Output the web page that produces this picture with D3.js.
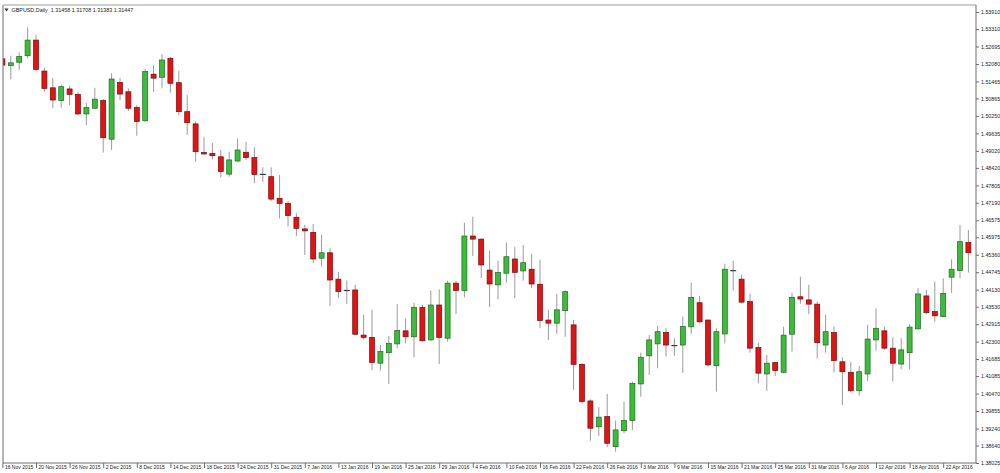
<!DOCTYPE html>
<html><head><meta charset="utf-8">
<script src="https://cdn.jsdelivr.net/npm/d3@7/dist/d3.min.js"></script>
<style>
html,body{margin:0;padding:0;background:#fff;}
svg{display:block;font-family:"Liberation Sans",Arial,sans-serif;}
</style></head>
<body>
<svg id="c" width="1000" height="473"></svg>
<script>
const symbolTitle = "GBPUSD,Daily";
const headerQuote = "1.31458 1.31708 1.31383 1.31447";
const startDate = "2015-11-16";
const holidays = ["2015-12-25", "2016-01-01"];

const open = [
1.5226,1.5202,1.5214,1.5237,1.5292,1.5183,1.5124,1.5079,1.5120,1.5101,
1.5032,1.5052,1.5079,1.4943,1.5143,1.5110,1.5055,1.5008,1.5172,1.5161,
1.5228,1.5142,1.5040,1.4997,1.4896,1.4893,1.4881,1.4820,1.4866,1.4897,
1.4878,1.4819,1.4811,1.4735,1.4717,1.4668,1.4627,1.4615,1.4524,1.4543,
1.4450,1.4410,1.4412,1.4253,1.4245,1.4154,1.4191,1.4222,1.4268,1.4247,
1.4351,1.4236,1.4359,1.4242,1.4436,1.4410,1.4602,1.4591,1.4482,1.4430,
1.4471,1.4521,1.4479,1.4485,1.4432,1.4306,1.4295,1.4339,1.4289,1.4150,
1.4021,1.3930,1.3966,1.3860,1.3916,1.3952,1.4081,1.4180,1.4222,1.4262,
1.4216,1.4218,1.4282,1.4367,1.4306,1.4145,1.4257,1.4480,1.4450,1.4371,
1.4209,1.4116,1.4156,1.4122,1.4256,1.4388,1.4377,1.4362,1.4218,1.4262,
1.4159,1.4122,1.4057,1.4116,1.4236,1.4268,1.4207,1.4151,1.4191,1.4275,
1.4391,1.4336,1.4318,1.4457,1.4480,1.4579];

const high = [
1.5236,1.5237,1.5249,1.5337,1.5310,1.5195,1.5158,1.5136,1.5131,1.5110,
1.5070,1.5124,1.5085,1.5175,1.5158,1.5122,1.5063,1.5189,1.5204,1.5242,
1.5232,1.5184,1.5099,1.5005,1.4950,1.4929,1.4905,1.4899,1.4946,1.4934,
1.4915,1.4844,1.4844,1.4817,1.4725,1.4682,1.4641,1.4644,1.4606,1.4559,
1.4476,1.4445,1.4430,1.4324,1.4342,1.4218,1.4250,1.4363,1.4312,1.4367,
1.4359,1.4410,1.4414,1.4445,1.4445,1.4649,1.4670,1.4594,1.4550,1.4515,
1.4579,1.4564,1.4570,1.4539,1.4518,1.4342,1.4398,1.4410,1.4306,1.4154,
1.4027,1.3999,1.4046,1.3952,1.4019,1.4089,1.4191,1.4253,1.4285,1.4277,
1.4242,1.4318,1.4438,1.4391,1.4308,1.4277,1.4504,1.4514,1.4465,1.4398,
1.4226,1.4183,1.4159,1.4283,1.4402,1.4459,1.4430,1.4371,1.4324,1.4283,
1.4175,1.4159,1.4144,1.4289,1.4347,1.4283,1.4245,1.4242,1.4292,1.4418,
1.4412,1.4441,1.4453,1.4520,1.4641,1.4623];

const low = [
1.5194,1.5154,1.5187,1.5228,1.5184,1.5110,1.5052,1.5055,1.5063,1.5028,
1.4993,1.5050,1.4896,1.4905,1.5081,1.5043,1.4955,1.5004,1.5110,1.5122,
1.5107,1.5028,1.4958,1.4864,1.4889,1.4872,1.4809,1.4811,1.4863,1.4870,
1.4788,1.4793,1.4726,1.4664,1.4635,1.4602,1.4535,1.4506,1.4494,1.4356,
1.4383,1.4363,1.4253,1.4238,1.4130,1.4128,1.4081,1.4207,1.4224,1.4175,
1.4232,1.4233,1.4151,1.4230,1.4327,1.4386,1.4532,1.4454,1.4352,1.4379,
1.4438,1.4383,1.4445,1.4418,1.4277,1.4236,1.4257,1.4247,1.4060,1.4013,
1.3881,1.3898,1.3858,1.3842,1.3907,1.3919,1.4036,1.4113,1.4136,1.4177,
1.4180,1.4120,1.4257,1.4295,1.4142,1.4054,1.4224,1.4410,1.4365,1.4191,
1.4083,1.4057,1.4109,1.4118,1.4195,1.4363,1.4327,1.4171,1.4191,1.4121,
1.4007,1.4052,1.4040,1.4092,1.4198,1.4201,1.4089,1.4133,1.4133,1.4273,
1.4327,1.4300,1.4316,1.4402,1.4453,1.4473];

const close = [
1.5204,1.5212,1.5234,1.5292,1.5189,1.5122,1.5081,1.5128,1.5101,1.5032,
1.5055,1.5084,1.4948,1.5155,1.5102,1.5052,1.5005,1.5181,1.5158,1.5222,
1.5140,1.5040,1.5001,1.4899,1.4891,1.4885,1.4829,1.4870,1.4905,1.4878,
1.4819,1.4819,1.4732,1.4717,1.4674,1.4629,1.4620,1.4521,1.4543,1.4447,
1.4406,1.4410,1.4256,1.4245,1.4157,1.4195,1.4224,1.4269,1.4247,1.4351,
1.4233,1.4359,1.4245,1.4436,1.4410,1.4602,1.4591,1.4500,1.4433,1.4473,
1.4529,1.4474,1.4508,1.4433,1.4304,1.4295,1.4342,1.4406,1.4150,1.4019,
1.3925,1.3964,1.3872,1.3919,1.3952,1.4083,1.4175,1.4236,1.4265,1.4218,
1.4216,1.4283,1.4386,1.4300,1.4148,1.4265,1.4485,1.4480,1.4369,1.4207,
1.4119,1.4154,1.4128,1.4253,1.4386,1.4380,1.4362,1.4226,1.4265,1.4163,
1.4124,1.4057,1.4124,1.4239,1.4277,1.4207,1.4154,1.4201,1.4281,1.4398,
1.4332,1.4321,1.4400,1.4485,1.4582,1.4543];

const priceTicks = [1.53910,1.53310,1.52695,1.52080,1.51465,1.50865,1.50250,1.49635,1.49020,1.48420,
1.47805,1.47190,1.46575,1.45975,1.45360,1.44745,1.44130,1.43530,1.42915,1.42300,1.41685,1.41085,
1.40470,1.39855,1.39240,1.38640,1.38025];

const dateTicks = ["16 Nov 2015","20 Nov 2015","26 Nov 2015","2 Dec 2015","8 Dec 2015","14 Dec 2015",
"18 Dec 2015","24 Dec 2015","31 Dec 2015","7 Jan 2016","13 Jan 2016","19 Jan 2016","25 Jan 2016",
"29 Jan 2016","4 Feb 2016","10 Feb 2016","16 Feb 2016","22 Feb 2016","26 Feb 2016","3 Mar 2016",
"9 Mar 2016","15 Mar 2016","21 Mar 2016","25 Mar 2016","31 Mar 2016","6 Apr 2016","12 Apr 2016",
"18 Apr 2016","22 Apr 2016"];

// trading-day categories (weekdays, minus holidays)
const fmtKey = d3.timeFormat("%Y-%m-%d");
const fmtLbl = d3.timeFormat("%-d %b %Y");
const dates = [];
{
  let d = d3.timeParse("%Y-%m-%d")(startDate);
  while (dates.length < open.length) {
    const wd = d.getDay();
    if (wd !== 0 && wd !== 6 && !holidays.includes(fmtKey(d))) dates.push(fmtLbl(d));
    d = d3.timeDay.offset(d, 1);
  }
}
const bars = dates.map((k, i) => ({k, o: open[i], h: high[i], l: low[i], c: close[i]}));

const svg = d3.select("#c");
const L = 3, R = 976, T = 5, B = 463;
const x = d3.scalePoint().domain(dates).range([2.4, 2.4 + 8.4 * (dates.length - 1)]);
const y = d3.scaleLinear().domain([priceTicks[priceTicks.length - 1], priceTicks[0]]).range([463, 12]);

svg.append("defs").append("clipPath").attr("id", "clip")
  .append("rect").attr("x", L).attr("y", T).attr("width", R - L).attr("height", B - T);

const g = svg.append("g").attr("clip-path", "url(#clip)");
const bw = 5;
const UP = "#3dbb3d", UPS = "#1f6a1f", DN = "#e01414", DNS = "#7a0a0a";

g.selectAll("line.w").data(bars).join("line").attr("class", "w")
  .attr("x1", d => x(d.k)).attr("x2", d => x(d.k))
  .attr("y1", d => y(d.h)).attr("y2", d => y(d.l))
  .attr("stroke", "#9a9a9a").attr("stroke-width", 1);

g.selectAll("rect.b").data(bars.filter(d => d.o !== d.c)).join("rect").attr("class", "b")
  .attr("x", d => x(d.k) - bw / 2)
  .attr("y", d => y(Math.max(d.o, d.c)))
  .attr("width", bw)
  .attr("height", d => Math.max(1, Math.abs(y(d.o) - y(d.c))))
  .attr("fill", d => d.c > d.o ? UP : DN)
  .attr("stroke", d => d.c > d.o ? UPS : DNS)
  .attr("stroke-width", 0.7);

g.selectAll("line.dj").data(bars.filter(d => d.o === d.c)).join("line").attr("class", "dj")
  .attr("x1", d => x(d.k) - bw / 2 - 0.5).attr("x2", d => x(d.k) + bw / 2 + 0.5)
  .attr("y1", d => y(d.o)).attr("y2", d => y(d.o))
  .attr("stroke", "#333a44").attr("stroke-width", 1.2);

// frame
const frame = "#6e6e6e";
svg.append("line").attr("x1", L).attr("x2", L).attr("y1", T).attr("y2", B).attr("stroke", frame);
svg.append("line").attr("x1", L).attr("x2", R).attr("y1", T).attr("y2", T).attr("stroke", "#9a9a9a");
svg.append("line").attr("x1", L).attr("x2", R).attr("y1", B).attr("y2", B).attr("stroke", frame);

// right price axis
const ya = d3.axisRight(y).tickValues(priceTicks).tickSize(3).tickPadding(2).tickFormat(d3.format(".5f"));
const yg = svg.append("g").attr("transform", `translate(${R},0)`).call(ya);
yg.select(".domain").attr("stroke", frame).attr("d", `M0,${T}V${B}`);
yg.selectAll(".tick line").attr("stroke", frame);
yg.selectAll(".tick text").attr("font-size", 5.3).attr("fill", "#222").attr("font-family", "Liberation Sans, Arial, sans-serif");

// bottom date axis
const xa = d3.axisBottom(x).tickValues(dateTicks.filter(t => dates.includes(t))).tickSize(5).tickPadding(0);
const xg = svg.append("g").attr("transform", `translate(0,${B})`).call(xa);
xg.select(".domain").remove();
xg.selectAll(".tick line").attr("stroke", frame);
xg.selectAll(".tick text").attr("font-size", 5.0).attr("fill", "#222").attr("text-anchor", "start")
  .attr("x", 2).attr("y", 2.5).attr("font-family", "Liberation Sans, Arial, sans-serif");

// header
svg.append("path").attr("d", "M4.5,8.5 L8.5,8.5 L6.5,11.5 Z").attr("fill", "#333");
svg.append("text").attr("x", 11.5).attr("y", 12).attr("font-size", 5.4).attr("fill", "#222")
  .text(symbolTitle + "  " + headerQuote).attr("xml:space", "preserve");
</script>
</body></html>
